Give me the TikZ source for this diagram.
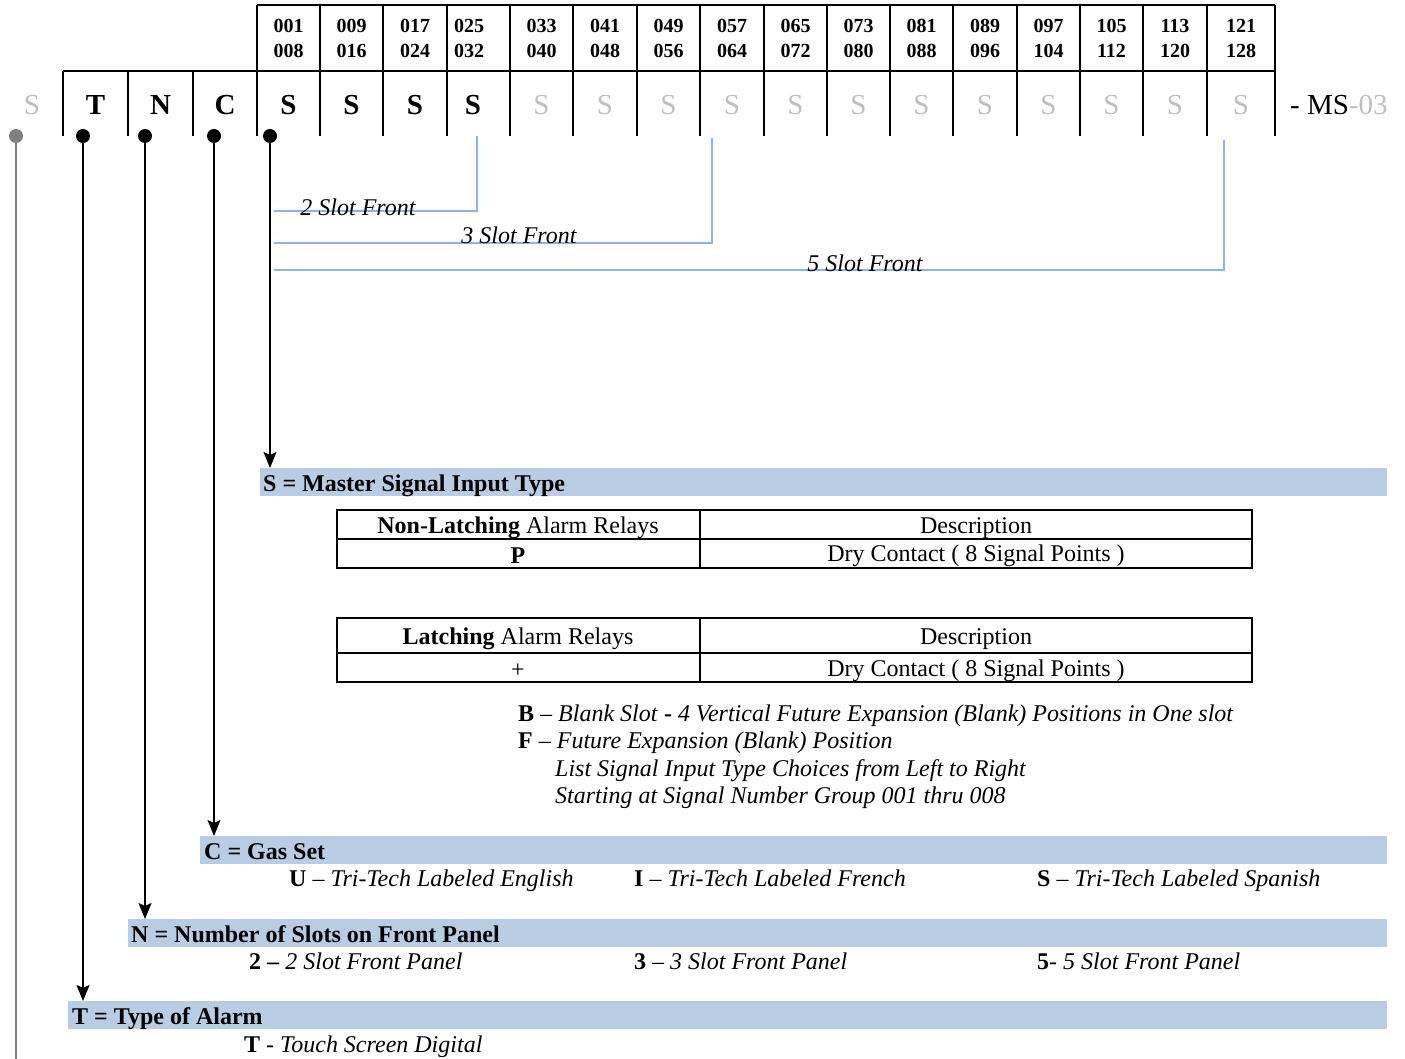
\documentclass[tikz,border=0pt]{standalone}
\usepackage{fontspec}
\setmainfont{Liberation Serif}
\usetikzlibrary{arrows.meta,positioning,calc}
\definecolor{bandblue}{RGB}{184,204,228}
\definecolor{slotblue}{RGB}{141,180,226}
\definecolor{palegray}{RGB}{191,191,191}
\definecolor{dotgray}{RGB}{128,128,128}

\begin{document}
\begin{tikzpicture}[
    x=1pt, y=-1pt,
    grid/.style={line width=2.4pt},
    code/.style={font=\fontsize{29}{32}\selectfont\bfseries, inner sep=0},
    pale/.style={font=\fontsize{29}{32}\selectfont, text=palegray, inner sep=0},
    num/.style={font=\fontsize{20}{25}\selectfont\bfseries, align=center, inner sep=0},
    dot/.style={circle, fill, inner sep=0, minimum size=14pt},
    arrow/.style={-{Stealth[length=16pt, width=13pt, inset=3pt]}, line width=1.8pt},
    slotline/.style={slotblue, line width=1.8pt},
    slotlabel/.style={font=\fontsize{24}{26}\selectfont\itshape, inner sep=0},
    band/.style={fill=bandblue, minimum height=28pt, inner sep=0, anchor=north west},
    bandtext/.style={font=\fontsize{24}{26}\selectfont\bfseries, inner sep=0, anchor=base west},
    cellt/.style={font=\fontsize{24}{26}\selectfont, inner sep=0},
    opt/.style={font=\fontsize{24}{27}\selectfont, inner sep=0, anchor=base west, align=left}
]
\useasboundingbox (0,0) rectangle (1405,1059);

% Code header grid
\draw[grid] (257,5) -- (1275,5);
\draw[grid] (63,71) -- (1275,71);
\foreach \x in {257,320,383,447,510,573,637,700,764,827,890,953,1017,1080,1143,1207,1275}
    \draw[grid] (\x,5) -- (\x,71);
\foreach \x in {63,128,193,257,320,383,447,510,573,637,700,764,827,890,953,1017,1080,1143,1207,1275}
    \draw[grid] (\x,71) -- (\x,136);

% Signal number groups
\foreach \x/\ta/\tb in {288.5/001/008, 351.5/009/016, 415/017/024, 469/025/032,
    541.5/033/040, 605/041/048, 668.5/049/056, 732/057/064, 795.5/065/072,
    858.5/073/080, 921.5/081/088, 985/089/096, 1048.5/097/104, 1111.5/105/112,
    1175/113/120, 1241/121/128}
    \node[num] (g\ta) at (\x,38) {\ta\\\tb};

% Code letters
\node[pale] (s0) at (32,105) {S};
\foreach \x/\n/\t in {95.5/t/T, 160.5/n/N, 225/c/C, 288.5/s1/S, 351.5/s2/S, 415/s3/S, 473/s4/S}
    \node[code] (\n) at (\x,105) {\t};
\foreach \x [count=\i from 5] in {541.5,605,668.5,732,795.5,858.5,921.5,985,1048.5,1111.5,1175,1241}
    \node[pale] (s\i) at (\x,105) {S};
\node[pale, anchor=west] (suffix) at (1290,105) {\textcolor{black}{- MS}-03};

% Dots
\node[dot, dotgray] (gdot) at (16,136) {};
\node[dot] (tdot) at (83,136) {};
\node[dot] (ndot) at (145,136) {};
\node[dot] (cdot) at (214,136) {};
\node[dot] (sdot) at (270,136) {};
\coordinate (gend) at (16,1059);

% Slot front brackets
\coordinate (f2) at (477,136);
\coordinate (f3) at (712,138);
\coordinate (f5) at (1224,140);
\draw[slotline] (274,211) -| (f2);
\draw[slotline] (274,243) -| (f3);
\draw[slotline] (274,270) -| (f5);
\node[slotlabel] (l2) at (358,207) {2 Slot Front};
\node[slotlabel] (l3) at (519,235) {3 Slot Front};
\node[slotlabel] (l5) at (865,263) {5 Slot Front};

% Bands
\node[band, minimum width=1127pt] (sband) at (260,468) {};
\node[bandtext] (stitle) at (263,491) {S = Master Signal Input Type};
\node[band, minimum width=1187pt] (cband) at (200,836) {};
\node[bandtext] (ctitle) at (204,859) {C = Gas Set};
\node[band, minimum width=1259pt] (nband) at (128,919) {};
\node[bandtext] (ntitle) at (131,942) {N = Number of Slots on Front Panel};
\node[band, minimum width=1319pt] (tband) at (68,1001) {};
\node[bandtext] (ttitle) at (72,1024) {T = Type of Alarm};

% Arrows to bands
\draw[arrow] (sdot) -- (sdot |- sband.north);
\draw[arrow] (cdot) -- (cdot |- cband.north);
\draw[arrow] (ndot) -- (ndot |- nband.north);
\draw[arrow] (tdot) -- (tdot |- tband.north);
\draw[dotgray, line width=1.8pt] (gdot) -- (gend);

% Relay tables
\draw[line width=1.6pt] (337,510) rectangle (1252,568);
\draw[line width=1.6pt] (337,539) -- (1252,539) (700,510) -- (700,568);
\node[cellt] (nlhead) at (518,528) {\textbf{Non-Latching} Alarm Relays};
\node[cellt] (nldesc) at (976,528) {Description};
\node[cellt] (nlcode) at (518,556) {\textbf{P}};
\node[cellt] (nltext) at (976,556) {Dry Contact ( 8 Signal Points )};
\draw[line width=1.6pt] (337,618) rectangle (1252,682);
\draw[line width=1.6pt] (337,653) -- (1252,653) (700,618) -- (700,682);
\node[cellt] (lhead) at (518,639) {\textbf{Latching} Alarm Relays};
\node[cellt] (ldesc) at (976,639) {Description};
\node[cellt] (lcode) at (518,671) {+};
\node[cellt] (ltext) at (976,671) {Dry Contact ( 8 Signal Points )};

% Slot notes
\node[opt] (bnote) at (518,721) {\textbf{B} -- \textit{Blank Slot} \textbf{-} \textit{4 Vertical Future Expansion (Blank) Positions in One slot}};
\node[opt] (fnote) at (518,748) {\textbf{F} -- \textit{Future Expansion (Blank) Position}};
\node[opt] (lnote) at (555,776) {\textit{List Signal Input Type Choices from Left to Right}};
\node[opt] (snote) at (555,803) {\textit{Starting at Signal Number Group 001 thru 008}};

% Gas set choices
\node[opt] (cu) at (289,886) {\textbf{U} -- \textit{Tri-Tech Labeled English}};
\node[opt] (ci) at (634,886) {\textbf{I} -- \textit{Tri-Tech Labeled French}};
\node[opt] (cs) at (1037,886) {\textbf{S} -- \textit{Tri-Tech Labeled Spanish}};

% Slot count choices
\node[opt] (n2) at (249,969) {\textbf{2 --} \textit{2 Slot Front Panel}};
\node[opt] (n3) at (634,969) {\textbf{3} -- \textit{3 Slot Front Panel}};
\node[opt] (n5) at (1037,969) {\textbf{5}- \textit{5 Slot Front Panel}};

% Alarm type
\node[opt] (tt) at (244,1052) {\textbf{T} - \textit{Touch Screen Digital}};

\end{tikzpicture}
\end{document}
